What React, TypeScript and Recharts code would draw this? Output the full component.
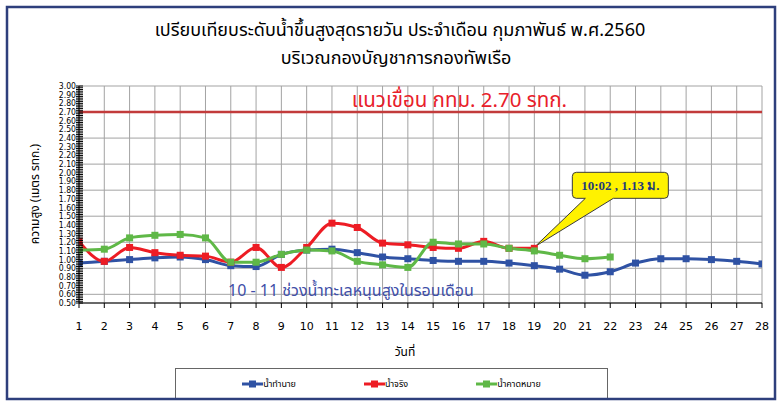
import React from 'react';
import { LineChart, Line, XAxis, YAxis, CartesianGrid, ReferenceLine, ReferenceDot, Legend } from 'recharts';

const days = [1, 2, 3, 4, 5, 6, 7, 8, 9, 10, 11, 12, 13, 14, 15, 16, 17, 18, 19, 20, 21, 22, 23, 24, 25, 26, 27, 28];
const yTickValues = [0.5, 0.6, 0.7, 0.8, 0.9, 1.0, 1.1, 1.2, 1.3, 1.4, 1.5, 1.6, 1.7, 1.8, 1.9, 2.0, 2.1, 2.2, 2.3, 2.4, 2.5, 2.6, 2.7, 2.8, 2.9, 3.0];

const predicted = [0.96, 0.98, 1.0, 1.02, 1.03, 1.0, 0.93, 0.92, 1.06, 1.11, 1.12, 1.08, 1.03, 1.01, 0.99, 0.98, 0.98, 0.96, 0.93, 0.89, 0.82, 0.86, 0.96, 1.01, 1.01, 1.0, 0.98, 0.95];
const actual = [1.21, 0.98, 1.14, 1.08, 1.05, 1.04, 0.97, 1.14, 0.91, 1.14, 1.42, 1.37, 1.19, 1.17, 1.14, 1.13, 1.21, 1.13, 1.13];
const expected = [1.11, 1.12, 1.25, 1.28, 1.29, 1.25, 0.97, 0.97, 1.06, 1.11, 1.1, 0.98, 0.94, 0.91, 1.2, 1.18, 1.18, 1.13, 1.1, 1.05, 1.01, 1.03];

const seriesNames = ['น้ำทำนาย', 'น้ำจริง', 'น้ำคาดหมาย'];
const seriesColors = ['#2F52A4', '#ED1C24', '#5FB847'];

const damLevel = 2.7;
const damLabel = 'แนวเขื่อน กทม. 2.70 รทก.';
const calloutDay = 19;
const calloutValue = 1.13;
const calloutText = '10:02 , 1.13 ม.';
const noteText = '10 - 11 ช่วงน้ำทะเลหนุนสูงในรอบเดือน';
const titleLines = ['เปรียบเทียบระดับน้ำขึ้นสูงสุดรายวัน ประจำเดือน กุมภาพันธ์ พ.ศ.2560', 'บริเวณกองบัญชาการกองทัพเรือ'];
const yAxisTitle = 'ความสูง (เมตร   รทก.)';
const xAxisTitle = 'วันที่';

const data = days.map((d, i) => ({
  day: d,
  predicted: predicted[i] ?? null,
  actual: actual[i] ?? null,
  expected: expected[i] ?? null,
}));

// minor tick marks every 0.02 between the labelled ticks
const minorTicks: number[] = [];
for (let i = 0; i < yTickValues.length - 1; i++) {
  for (let k = 0; k < 5; k++) minorTicks.push(Math.round((yTickValues[i] + k * 0.02) * 100) / 100);
}
minorTicks.push(yTickValues[yTickValues.length - 1]);

const THAI = "Tahoma, 'Noto Sans Thai', 'DejaVu Sans', sans-serif";

const YTick = (props: any) => {
  const { x, y, payload } = props;
  const v = payload.value;
  const isMajor = Math.round(v * 100) % 10 === 0;
  return (
    <g>
      <line x1={x - 3} x2={x + 4} y1={y} y2={y} stroke="#000" strokeWidth={1} />
      {isMajor && (
        <text x={x - 3} y={y} dy="0.35em" textAnchor="end" fontSize={8.6} fill="#000"
          style={{ fontFamily: "'DejaVu Sans Condensed', 'DejaVu Sans', sans-serif" }}>
          {v.toFixed(2)}
        </text>
      )}
    </g>
  );
};

const SquareDot = (color: string) => (props: any) => {
  const { cx, cy, value } = props;
  if (value == null || cx == null || cy == null) return <g />;
  return <rect x={cx - 3.5} y={cy - 3.5} width={7} height={7} fill={color} />;
};

const Callout = (props: any) => {
  const { cx, cy } = props;
  if (cx == null || cy == null) return <g />;
  const bx = cx + 38, by = cy - 76, bw = 96, bh = 26, r = 4;
  const pl = cx + 51, pr = cx + 79;
  const d = `M${bx + r},${by} L${bx + bw - r},${by} Q${bx + bw},${by} ${bx + bw},${by + r} L${bx + bw},${by + bh - r} Q${bx + bw},${by + bh} ${bx + bw - r},${by + bh} L${pr},${by + bh} L${cx + 1},${cy - 2} L${pl},${by + bh} L${bx + r},${by + bh} Q${bx},${by + bh} ${bx},${by + bh - r} L${bx},${by + r} Q${bx},${by} ${bx + r},${by} Z`;
  return (
    <g>
      <path d={d} fill="#FFF200" stroke="#3a3a3a" strokeWidth={1} />
      <text x={bx + bw / 2} y={by + bh / 2} dy="0.35em" textAnchor="middle" fontSize={13} fontWeight="bold" fill="#1F3A7A"
        style={{ fontFamily: "'Liberation Serif', 'DejaVu Serif', serif" }}>
        {calloutText}
      </text>
    </g>
  );
};

const DamLabel = (props: any) => {
  const { viewBox } = props;
  const x = viewBox.x + viewBox.width * 0.557;
  const y = viewBox.y - 12;
  return (
    <text x={x} y={y} dy="0.35em" textAnchor="middle" fontSize={20.5} fill="#E8202A" style={{ fontFamily: THAI }}>
      {damLabel}
    </text>
  );
};

const LegendContent = () => (
  <div style={{ display: 'flex', justifyContent: 'center', alignItems: 'center', gap: 68, height: '100%', fontFamily: THAI, fontSize: 9, color: '#000' }}>
    {seriesNames.map((n, i) => (
      <div key={n} style={{ display: 'flex', alignItems: 'center' }}>
        <svg width={21} height={8}>
          <line x1={0} x2={21} y1={4} y2={4} stroke={seriesColors[i]} strokeWidth={3} />
          <rect x={7} y={0.5} width={7} height={7} fill={seriesColors[i]} />
        </svg>
        <span>{n}</span>
      </div>
    ))}
  </div>
);

export default function App() {
  return (
    <div style={{ position: 'absolute', left: 0, top: 0, width: 783, height: 405, background: '#fff' }}>
      <LineChart width={783} height={405} data={data} margin={{ top: 86, right: 21, bottom: 72, left: 19 }}>
        <YAxis yAxisId="grid" hide type="number" domain={[0.5, 3]} ticks={yTickValues} allowDataOverflow />
        <CartesianGrid yAxisId="grid" stroke="#A3A3A3" strokeWidth={1} />
        <XAxis dataKey="day" type="number" domain={[1, 28]} ticks={days} interval={0} allowDataOverflow
          tickSize={5} tickMargin={14} stroke="#000" tick={{ fontSize: 11, fill: '#000', fontFamily: "'DejaVu Sans', sans-serif" }} />
        <YAxis type="number" domain={[0.5, 3]} ticks={minorTicks} interval={0} allowDataOverflow width={60}
          tickLine={false} tickSize={0} tickMargin={0} stroke="#000" tick={<YTick />} />
        <ReferenceLine y={damLevel} stroke="#C23B3B" strokeWidth={2.5} label={<DamLabel />} />
        <Line dataKey="predicted" name={seriesNames[0]} type="monotone" stroke={seriesColors[0]} strokeWidth={3}
          dot={SquareDot(seriesColors[0])} activeDot={false} isAnimationActive={false} />
        <Line dataKey="actual" name={seriesNames[1]} type="monotone" stroke={seriesColors[1]} strokeWidth={3}
          dot={SquareDot(seriesColors[1])} activeDot={false} isAnimationActive={false} />
        <Line dataKey="expected" name={seriesNames[2]} type="monotone" stroke={seriesColors[2]} strokeWidth={3}
          dot={SquareDot(seriesColors[2])} activeDot={false} isAnimationActive={false} />
        <ReferenceDot x={calloutDay} y={calloutValue} r={0} shape={<Callout />} />
        <Legend verticalAlign="middle" align="center" layout="horizontal" content={<LegendContent />}
          wrapperStyle={{ left: 175, top: 368, width: 433, height: 31, border: '1px solid #666', boxSizing: 'border-box', background: '#fff' }} />
      </LineChart>
      <svg width={783} height={405} style={{ position: 'absolute', left: 0, top: 0, pointerEvents: 'none' }}>
        <rect x={7} y={7} width={768} height={392} fill="none" stroke="#2E3F7C" strokeWidth={2.5} />
        <text x={400} y={30} dy="0.35em" textAnchor="middle" fontSize={18} fill="#000" style={{ fontFamily: THAI }}>{titleLines[0]}</text>
        <text x={396} y={58} dy="0.35em" textAnchor="middle" fontSize={18} fill="#000" style={{ fontFamily: THAI }}>{titleLines[1]}</text>
        <text x={35} y={194} dy="0.35em" textAnchor="middle" fontSize={12} fill="#000" transform="rotate(-90 35 194)" style={{ fontFamily: THAI }}>{yAxisTitle}</text>
        <text x={405} y={352} dy="0.35em" textAnchor="middle" fontSize={12} fill="#000" style={{ fontFamily: THAI }}>{xAxisTitle}</text>
        <text x={228} y={290} dy="0.35em" textAnchor="start" fontSize={16} fill="#3F4FA8" style={{ fontFamily: THAI }}>{noteText}</text>
      </svg>
    </div>
  );
}
